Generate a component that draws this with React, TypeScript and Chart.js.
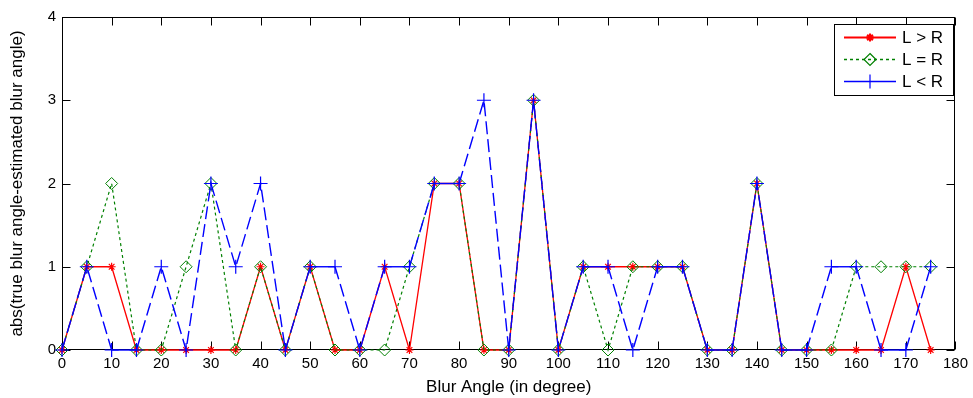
import React, { useEffect, useRef } from 'react';
import { Chart, registerables } from 'chart.js';

Chart.register(...registerables);

const angles = [0, 5, 10, 15, 20, 25, 30, 35, 40, 45, 50, 55, 60, 65, 70, 75, 80, 85, 90, 95, 100, 105, 110, 115, 120, 125, 130, 135, 140, 145, 150, 155, 160, 165, 170, 175];
const lGreaterR = [0, 1, 1, 0, 0, 0, 0, 0, 1, 0, 1, 0, 0, 1, 0, 2, 2, 0, 0, 3, 0, 1, 1, 1, 1, 1, 0, 0, 2, 0, 0, 0, 0, 0, 1, 0];
const lEqualR = [0, 1, 2, 0, 0, 1, 2, 0, 1, 0, 1, 0, 0, 0, 1, 2, 2, 0, 0, 3, 0, 1, 0, 1, 1, 1, 0, 0, 2, 0, 0, 0, 1, 1, 1, 1];
const lLessR = [0, 1, 0, 0, 1, 0, 2, 1, 2, 0, 1, 1, 0, 1, 1, 2, 2, 3, 0, 3, 0, 1, 1, 0, 1, 1, 0, 0, 2, 0, 0, 1, 1, 0, 0, 1];
const xTicks = [0, 10, 20, 30, 40, 50, 60, 70, 80, 90, 100, 110, 120, 130, 140, 150, 160, 170, 180];
const yTicks = [0, 1, 2, 3, 4];
const seriesNames = ['L > R', 'L = R', 'L < R'];

const FONT = '"Liberation Sans", Arial, sans-serif';
const RED = '#ff0000';
const GREEN = '#008000';
const BLUE = '#0000ff';
const COLORS = [RED, GREEN, BLUE];
const STYLES = ['star', 'rectRot', 'cross'];
const RADII = [4, 6, 7];

const toPoints = (ys: number[]) => angles.map((x, i) => ({ x, y: ys[i] }));

const framePlugin = {
  id: 'frame',
  beforeDatasetsDraw(chart: any) {
    const { ctx, chartArea: a, scales } = chart;
    ctx.save();
    ctx.strokeStyle = '#000';
    ctx.lineWidth = 1;
    const L = Math.round(a.left) + 0.5;
    const R = Math.round(a.right) - 0.5;
    const T = Math.round(a.top) + 0.5;
    const B = Math.round(a.bottom) - 0.5;
    ctx.strokeRect(L, T, R - L, B - T);
    const len = 8;
    ctx.beginPath();
    xTicks.forEach((v) => {
      const px = Math.round(scales.x.getPixelForValue(v)) + 0.5;
      ctx.moveTo(px, B);
      ctx.lineTo(px, B - len);
      ctx.moveTo(px, T);
      ctx.lineTo(px, T + len);
    });
    yTicks.forEach((v) => {
      const py = Math.round(scales.y.getPixelForValue(v)) + 0.5;
      ctx.moveTo(L, py);
      ctx.lineTo(L + len, py);
      ctx.moveTo(R, py);
      ctx.lineTo(R - len, py);
    });
    ctx.stroke();
    ctx.restore();
  },
};

const legendPlugin = {
  id: 'customLegend',
  afterDraw(chart: any) {
    const { ctx } = chart;
    const bx = 834.5, by = 24.5, bw = 119, bh = 71;
    ctx.save();
    ctx.fillStyle = '#fff';
    ctx.fillRect(bx, by, bw, bh);
    ctx.strokeStyle = '#000';
    ctx.lineWidth = 1;
    ctx.strokeRect(bx, by, bw, bh);
    const rows = [37.5, 59.5, 81.5];
    rows.forEach((y, i) => {
      const color = COLORS[i];
      ctx.save();
      ctx.strokeStyle = color;
      ctx.lineWidth = i === 0 ? 2 : 1.3;
      ctx.setLineDash(i === 1 ? [3, 3] : []);
      ctx.beginPath();
      ctx.moveTo(844, y);
      ctx.lineTo(896, y);
      ctx.stroke();
      ctx.setLineDash([]);
      ctx.lineWidth = i === 0 ? 2 : 1.2;
      const r = RADII[i];
      const cx = 870;
      ctx.beginPath();
      if (STYLES[i] === 'rectRot') {
        ctx.moveTo(cx, y - r);
        ctx.lineTo(cx + r, y);
        ctx.lineTo(cx, y + r);
        ctx.lineTo(cx - r, y);
        ctx.closePath();
      } else if (STYLES[i] === 'cross') {
        ctx.moveTo(cx - r, y);
        ctx.lineTo(cx + r, y);
        ctx.moveTo(cx, y - r);
        ctx.lineTo(cx, y + r);
      } else {
        for (let k = 0; k < 4; k++) {
          const ang = (k * Math.PI) / 4;
          ctx.moveTo(cx - r * Math.cos(ang), y - r * Math.sin(ang));
          ctx.lineTo(cx + r * Math.cos(ang), y + r * Math.sin(ang));
        }
      }
      ctx.stroke();
      ctx.restore();
      ctx.fillStyle = '#000';
      ctx.font = `17px ${FONT}`;
      ctx.textBaseline = 'middle';
      ctx.textAlign = 'left';
      ctx.fillText(seriesNames[i], 902, y + 1);
    });
    ctx.restore();
  },
};

export default function App() {
  const canvasRef = useRef<HTMLCanvasElement | null>(null);

  useEffect(() => {
    document.body.style.margin = '0';
    const canvas = canvasRef.current;
    if (!canvas) return;
    const slantDash = (dash: number[]) => (c: any) =>
      c.p0.parsed.y !== c.p1.parsed.y ? dash : [];
    const chart = new Chart(canvas, {
      type: 'line',
      data: {
        datasets: [
          {
            label: seriesNames[0],
            data: toPoints(lGreaterR),
            borderColor: RED,
            borderWidth: 1.3,
            pointStyle: 'star',
            pointRadius: RADII[0],
            pointBorderColor: RED,
            pointBackgroundColor: 'rgba(0,0,0,0)',
            pointBorderWidth: 1.2,
            tension: 0,
            clip: false,
            order: 3,
          },
          {
            label: seriesNames[1],
            data: toPoints(lEqualR),
            borderColor: GREEN,
            borderWidth: 1.2,
            borderDash: [3, 3],
            pointStyle: 'rectRot',
            pointRadius: RADII[1],
            pointBorderColor: GREEN,
            pointBackgroundColor: 'rgba(0,0,0,0)',
            pointBorderWidth: 1,
            tension: 0,
            clip: false,
            order: 2,
          },
          {
            label: seriesNames[2],
            data: toPoints(lLessR),
            borderColor: BLUE,
            borderWidth: 1.4,
            segment: { borderDash: slantDash([13, 5]) },
            pointStyle: 'cross',
            pointRadius: RADII[2],
            pointBorderColor: BLUE,
            pointBackgroundColor: 'rgba(0,0,0,0)',
            pointBorderWidth: 1.2,
            tension: 0,
            clip: false,
            order: 1,
          },
        ] as any,
      },
      options: {
        animation: false,
        responsive: false,
        events: [],
        layout: { padding: { left: 0, top: 17, right: 13, bottom: 0 } },
        plugins: {
          legend: { display: false },
          tooltip: { enabled: false },
        },
        scales: {
          x: {
            type: 'linear',
            min: 0,
            max: 180,
            afterBuildTicks: (s: any) => {
              s.ticks = xTicks.map((v) => ({ value: v }));
            },
            afterFit: (s: any) => {
              s.height = 48;
            },
            grid: { display: false, drawTicks: false },
            border: { display: false },
            ticks: {
              color: '#000',
              font: { family: FONT, size: 15 },
              padding: 5,
              maxRotation: 0,
              autoSkip: false,
            },
            title: {
              display: true,
              text: 'Blur Angle (in degree)',
              color: '#000',
              font: { family: FONT, size: 17 },
              padding: { top: 0, bottom: 0 },
            },
          },
          y: {
            type: 'linear',
            min: 0,
            max: 4,
            afterBuildTicks: (s: any) => {
              s.ticks = yTicks.map((v) => ({ value: v }));
            },
            afterFit: (s: any) => {
              s.width = 62;
            },
            grid: { display: false, drawTicks: false },
            border: { display: false },
            ticks: {
              color: '#000',
              font: { family: FONT, size: 15 },
              padding: 6,
            },
            title: {
              display: true,
              text: 'abs(true blur angle-estimated blur angle)',
              color: '#000',
              font: { family: FONT, size: 17 },
              padding: { top: 7, bottom: 0 },
            },
          },
        },
      },
      plugins: [framePlugin, legendPlugin],
    });
    return () => chart.destroy();
  }, []);

  return (
    <div style={{ width: 973, height: 398 }}>
      <canvas ref={canvasRef} width={973} height={398} style={{ display: 'block' }} />
    </div>
  );
}
